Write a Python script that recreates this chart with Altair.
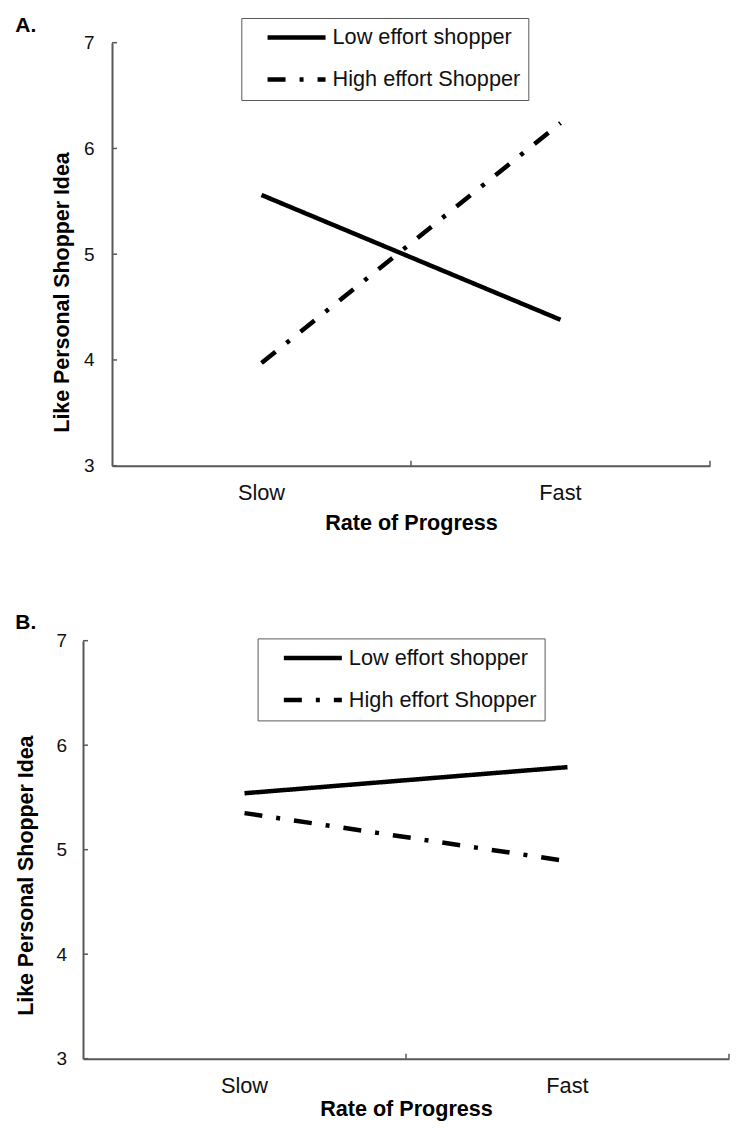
import altair as alt
import pandas as pd

rates = ["Slow", "Fast"]
groups = ["Low effort shopper", "High effort Shopper"]
a_low = [5.56, 4.38]
a_high = [3.97, 6.24]
b_low = [5.54, 5.79]
b_high = [5.35, 4.89]
y_ticks = [3, 4, 5, 6, 7]

FONT = "Liberation Sans"
GRAY = "#595959"


def make_df(low, high):
    rows = []
    for g, vals in zip(groups, [low, high]):
        for r, v in zip(rates, vals):
            rows.append({"rate": r, "group": g, "value": v})
    return pd.DataFrame(rows)


def panel(df, label, w, h, x0, label_y, ylab_pad, ytitle_x, ytitle_y,
          xtitle_y, leg_x, leg_y):
    # x0: inset of the y axis inside the panel's plot area
    xscale = alt.Scale(type="band", domain=rates, range=[x0, w],
                       paddingInner=0, paddingOuter=0)
    yscale = alt.Scale(domain=[3, 7], nice=False, zero=False)
    xaxis = alt.Axis(title="Rate of Progress", labelAngle=0, ticks=False,
                     grid=False, domainColor=GRAY, domainWidth=2,
                     labelFont=FONT, labelFontSize=21.8, labelColor="#111",
                     labelBaseline="alphabetic", labelPadding=34,
                     titleFont=FONT, titleFontSize=21.6, titleFontWeight="bold",
                     titleColor="black", titleBaseline="alphabetic",
                     titleY=xtitle_y)
    yaxis = alt.Axis(title="Like Personal Shopper Idea", values=y_ticks,
                     format="d", ticks=False, grid=False, offset=-x0,
                     domainColor=GRAY, domainWidth=2,
                     labelFont=FONT, labelFontSize=19, labelColor="#111",
                     labelPadding=ylab_pad,
                     titleFont=FONT, titleFontSize=21.4, titleFontWeight="bold",
                     titleColor="black", titleAngle=270,
                     titleBaseline="middle", titleAlign="center",
                     titleX=ytitle_x, titleY=ytitle_y)
    lines = alt.Chart(df).mark_line(color="black", strokeWidth=4.5).encode(
        x=alt.X("rate:N", scale=xscale, bandPosition=0.5, sort=rates, axis=xaxis),
        y=alt.Y("value:Q", scale=yscale, axis=yaxis),
        strokeDash=alt.StrokeDash(
            "group:N",
            scale=alt.Scale(domain=groups, range=[[1, 0], [18, 14, 4, 14]]),
            legend=alt.Legend(orient="none", legendX=leg_x, legendY=leg_y,
                              title=None, symbolType="stroke", symbolSize=3364,
                              symbolStrokeWidth=4.5, symbolStrokeColor="black",
                              symbolOffset=15.75, clipHeight=23,
                              labelFont=FONT, labelFontSize=21.7, labelColor="#111",
                              labelOffset=4.5, labelLimit=0,
                              padding=8, rowPadding=18, strokeColor=GRAY),
        ),
    )
    ytick = alt.Chart(pd.DataFrame({"value": y_ticks})).mark_rule(
        color=GRAY, strokeWidth=1.5).encode(
        y=alt.Y("value:Q", scale=yscale, axis=yaxis),
        x=alt.value(x0), x2=alt.value(x0 + 5))
    tdf = pd.DataFrame({"rate": ["Fast"]})
    xtick_mid = alt.Chart(tdf).mark_rule(color=GRAY, strokeWidth=1.5).encode(
        x=alt.X("rate:N", scale=xscale, bandPosition=0, sort=rates, axis=xaxis),
        y=alt.value(h), y2=alt.value(h - 5))
    xtick_end = alt.Chart(tdf).mark_rule(color=GRAY, strokeWidth=1.5).encode(
        x=alt.X("rate:N", scale=xscale, bandPosition=1, sort=rates, axis=xaxis),
        y=alt.value(h), y2=alt.value(h - 5))
    tag = alt.Chart(pd.DataFrame({"t": [label]})).mark_text(
        align="left", baseline="alphabetic", font=FONT, fontSize=21,
        fontWeight="bold", color="black").encode(
        text="t:N", x=alt.value(-67.7), y=alt.value(label_y))
    return alt.layer(lines, ytick, xtick_mid, xtick_end, tag).properties(
        width=w, height=h)


# both panels share the same plot origin (page x 82.7); panel A's axis is inset
pa = panel(make_df(a_low, a_high), "A.", 627, 423, 29, -11, 18,
           -49.2, 249.3, 64, 158.3, -24.7)
pb = panel(make_df(b_low, b_high), "B.", 646, 418, 0, -12, 16.5,
           -56.2, 234.5, 57, 174.6, -2.3)

chart = alt.concat(pa, pb, columns=1, spacing=77).properties(
    padding={"left": 7, "top": 6.7, "right": 0, "bottom": 0},
).resolve_scale(strokeDash="independent").resolve_legend(
    strokeDash="independent").configure_view(stroke=None)

chart.save("out.html", embed_options={"renderer": "svg", "actions": False})
